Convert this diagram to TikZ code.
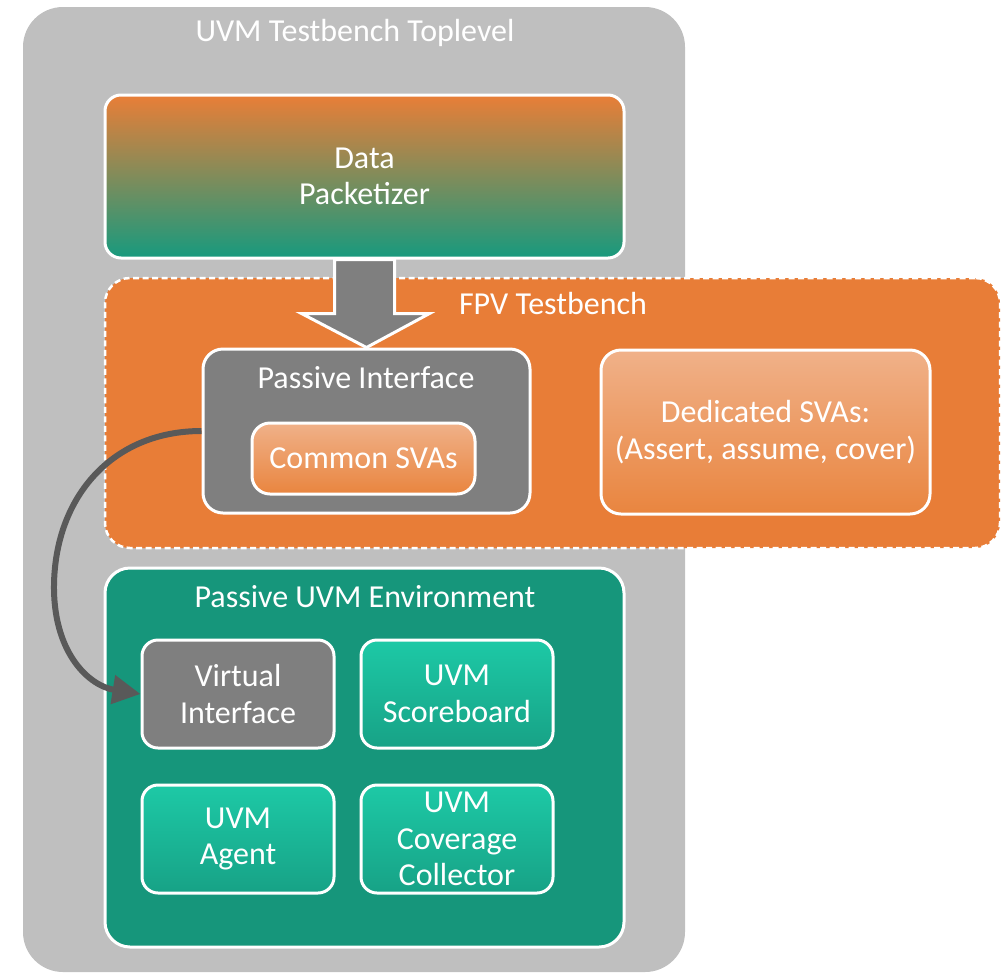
\documentclass[tikz,border=0pt]{standalone}
\usepackage{fontspec}
\setmainfont{Carlito}
\usetikzlibrary{arrows.meta,calc}
\definecolor{bggray}{HTML}{BFBFBF}
\definecolor{fpvorange}{HTML}{E87D37}
\definecolor{envteal}{HTML}{16967B}
\definecolor{midgray}{HTML}{7F7F7F}
\definecolor{darkgray}{HTML}{595959}
\definecolor{lorangetop}{HTML}{F0B189}
\definecolor{lorangebot}{HTML}{E9853F}
\definecolor{tealtop}{HTML}{1DC9A6}
\definecolor{tealbot}{HTML}{17A286}
\definecolor{dporange}{HTML}{E97E37}
\definecolor{dpteal}{HTML}{179A7E}
\tikzset{
  txt/.style={text=white, font=\fontsize{32}{36.5}\selectfont, align=center, inner sep=0pt},
  box/.style={txt, draw=white, line width=3pt, rounded corners=16pt},
  titletxt/.style={txt},
  blockarrow/.style={fill=midgray, draw=white, line width=3pt, line join=miter},
  curvearrow/.style={draw=darkgray, line width=6pt, -{Triangle[length=28pt,width=28pt]}},
}
\begin{document}
\begin{tikzpicture}[x=1pt,y=-1pt]
\useasboundingbox (0,0) rectangle (1003,975);
% toplevel background
\node[fill=bggray, rounded corners=40pt, minimum width=662pt, minimum height=965pt, inner sep=0pt] (tl) at (354,489.5) {};
\node[titletxt] (tltitle) at (355,33) {UVM Testbench Toplevel};
% data packetizer
\node[box, top color=dporange, bottom color=dpteal, minimum width=519pt, minimum height=163pt] (dp) at (364.5,176.5) {Data\\Packetizer};
% FPV testbench
\node[txt, fill=fpvorange, draw=white, line width=2.5pt, dash pattern=on 6pt off 3.5pt, rounded corners=25pt, minimum width=895pt, minimum height=270pt] (fpv) at (552.5,413) {};
\node[titletxt] (fpvtitle) at (553,304) {FPV Testbench};
% passive interface
\node[box, fill=midgray, rounded corners=20pt, minimum width=327pt, minimum height=164pt] (pi) at (366.5,431) {};
\node[titletxt] (pititle) at (366,378) {Passive Interface};
\node[box, top color=lorangetop, bottom color=lorangebot, rounded corners=18pt, minimum width=223pt, minimum height=71pt] (cs) at (363.5,458.5) {Common SVAs};
% block arrow
\draw[blockarrow] ($(dp.south)+(-30,0)$) -- ($(dp.south)+(30,0)$) -- ($(dp.south)+(30,54)$) -- ($(dp.south)+(65,54)$) -- (pi.north) -- ($(dp.south)+(-63,54)$) -- ($(dp.south)+(-30,54)$) -- cycle;
% dedicated SVAs
\node[box, top color=lorangetop, bottom color=lorangebot, rounded corners=20pt, minimum width=329pt, minimum height=164pt] (ds) at (765.5,432) {Dedicated SVAs:\\(Assert, assume, cover)};
% passive UVM environment
\node[box, fill=envteal, rounded corners=25pt, minimum width=519pt, minimum height=379pt] (env) at (364.5,757.5) {};
\node[titletxt] (envtitle) at (365,597) {Passive UVM Environment};
\node[box, fill=midgray, minimum width=192pt, minimum height=108pt] (vi) at (238,694) {Virtual\\Interface};
\node[box, top color=tealtop, bottom color=tealbot, minimum width=192pt, minimum height=108pt] (sb) at (457,694) {UVM\\Scoreboard};
\node[box, top color=tealtop, bottom color=tealbot, minimum width=192pt, minimum height=108pt] (ag) at (238,839) {UVM\\Agent};
\node[box, top color=tealtop, bottom color=tealbot, minimum width=192pt, minimum height=108pt] (cc) at (457,839) {UVM\\Coverage\\Collector};
% curved connector
\draw[curvearrow] (pi.west) .. controls (110,431) and (53,500) .. (54,590) .. controls (55,655) and (90,686) .. (vi.west);
\end{tikzpicture}
\end{document}
